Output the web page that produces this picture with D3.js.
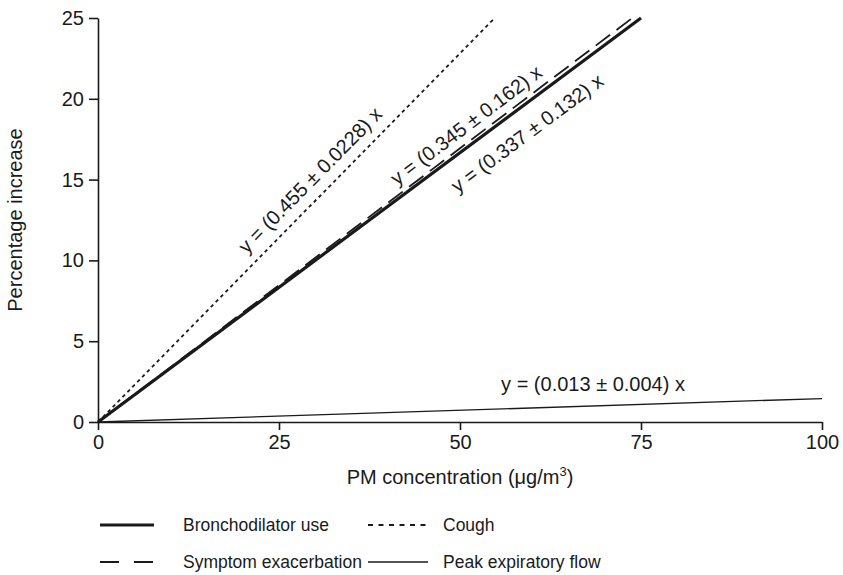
<!DOCTYPE html>
<html>
<head>
<meta charset="utf-8">
<script src="https://cdn.jsdelivr.net/npm/d3@7"></script>
<style>
  html, body { margin: 0; padding: 0; background: #fff; }
  svg { display: block; font-family: "Liberation Sans", Arial, Helvetica, sans-serif; }
</style>
</head>
<body>
<svg id="chart" width="843" height="575"></svg>
<script>
// ---- data ----
const seriesNames = ["Bronchodilator use", "Symptom exacerbation", "Cough", "Peak expiratory flow"];
const seriesLabels = ["y = (0.337 \u00b1 0.132) x", "y = (0.345 \u00b1 0.162) x", "y = (0.455 \u00b1 0.0228) x", "y = (0.013 \u00b1 0.004) x"];
const bronchodilatorX = [0, 75];
const bronchodilatorY = [0, 25];
const symptomX = [0, 73.8];
const symptomY = [0, 25];
const coughX = [0, 54.8];
const coughY = [0, 25];
const peakFlowX = [0, 100];
const peakFlowY = [0, 1.45];
const xTicks = [0, 25, 50, 75, 100];
const yTicks = [0, 5, 10, 15, 20, 25];
const xTitle = "PM concentration (\u03bcg/m";
const yTitle = "Percentage increase";

// ---- layout ----
const svg = d3.select("#chart");
const x = d3.scaleLinear().domain([0, 100]).range([98, 822]);
const y = d3.scaleLinear().domain([0, 25]).range([422, 18]);
const FS = 20;
const LFS = 17.5;
const ink = "#1a1a1a";

// axes
const gx = svg.append("g").attr("transform", `translate(0,${y(0)})`)
  .call(d3.axisBottom(x).tickValues(xTicks).tickSize(8).tickPadding(5).tickSizeOuter(0));
const gy = svg.append("g").attr("transform", `translate(${x(0)},0)`)
  .call(d3.axisLeft(y).tickValues(yTicks).tickSize(9).tickPadding(5).tickSizeOuter(0));
[gx, gy].forEach(g => {
  g.selectAll("path.domain").attr("stroke", ink).attr("stroke-width", 1.6);
  g.selectAll(".tick line").attr("stroke", ink).attr("stroke-width", 1.6);
  g.selectAll(".tick text").attr("font-size", FS).attr("fill", ink)
    .attr("font-family", "'Liberation Sans', Arial, sans-serif");
});

// lines
const styles = [
  { xs: bronchodilatorX, ys: bronchodilatorY, w: 3.2, dash: null, ldash: null },
  { xs: symptomX, ys: symptomY, w: 1.8, dash: "18,8", ldash: "19,15" },
  { xs: coughX, ys: coughY, w: 1.8, dash: "3.5,3.5", ldash: "5,5.5" },
  { xs: peakFlowX, ys: peakFlowY, w: 1.3, dash: null, ldash: null }
];
const line = d3.line().x(d => x(d[0])).y(d => y(d[1]));
styles.forEach(s => {
  const pts = s.xs.map((v, i) => [v, s.ys[i]]);
  svg.append("path").attr("d", line(pts)).attr("fill", "none")
    .attr("stroke", ink).attr("stroke-width", s.w)
    .attr("stroke-dasharray", s.dash);
});

// equation labels rotated along their lines
function angleOf(xs, ys) {
  const dx = x(xs[1]) - x(xs[0]);
  const dy = y(ys[1]) - y(ys[0]);
  return Math.atan2(dy, dx) * 180 / Math.PI;
}
const labelPos = [
  { cx: 527, cy: 133, a: angleOf(bronchodilatorX, bronchodilatorY) },
  { cx: 466, cy: 125, a: angleOf(symptomX, symptomY) },
  { cx: 310, cy: 180, a: angleOf(coughX, coughY) },
  { cx: 593, cy: 384, a: 0 }
];
labelPos.forEach((p, i) => {
  svg.append("text").attr("transform", `translate(${p.cx},${p.cy}) rotate(${p.a})`)
    .attr("text-anchor", "middle").attr("dominant-baseline", "central")
    .attr("font-size", FS).attr("fill", ink).text(seriesLabels[i]);
});

// axis titles
const xt = svg.append("text").attr("x", 460).attr("y", 484).attr("text-anchor", "middle")
  .attr("font-size", FS).attr("fill", ink);
xt.append("tspan").text(xTitle);
xt.append("tspan").attr("font-size", FS * 0.65).attr("dy", -8).text("3");
xt.append("tspan").attr("dy", 8).text(")");

svg.append("text").attr("transform", `translate(22,220) rotate(-90)`)
  .attr("text-anchor", "middle").attr("font-size", FS).attr("fill", ink).text(yTitle);

// legend
const legend = [
  { name: seriesNames[0], s: styles[0], lx: 100, len: 54, tx: 183, ly: 525 },
  { name: seriesNames[2], s: styles[2], lx: 368, len: 60, tx: 443, ly: 525 },
  { name: seriesNames[1], s: styles[1], lx: 100, len: 54, tx: 183, ly: 562 },
  { name: seriesNames[3], s: styles[3], lx: 368, len: 60, tx: 443, ly: 562 }
];
legend.forEach(l => {
  svg.append("line").attr("x1", l.lx).attr("x2", l.lx + l.len).attr("y1", l.ly).attr("y2", l.ly)
    .attr("stroke", ink).attr("stroke-width", l.s.w).attr("stroke-dasharray", l.s.ldash);
  svg.append("text").attr("x", l.tx).attr("y", l.ly).attr("dominant-baseline", "central")
    .attr("font-size", LFS).attr("fill", ink).text(l.name);
});
</script>
</body>
</html>
